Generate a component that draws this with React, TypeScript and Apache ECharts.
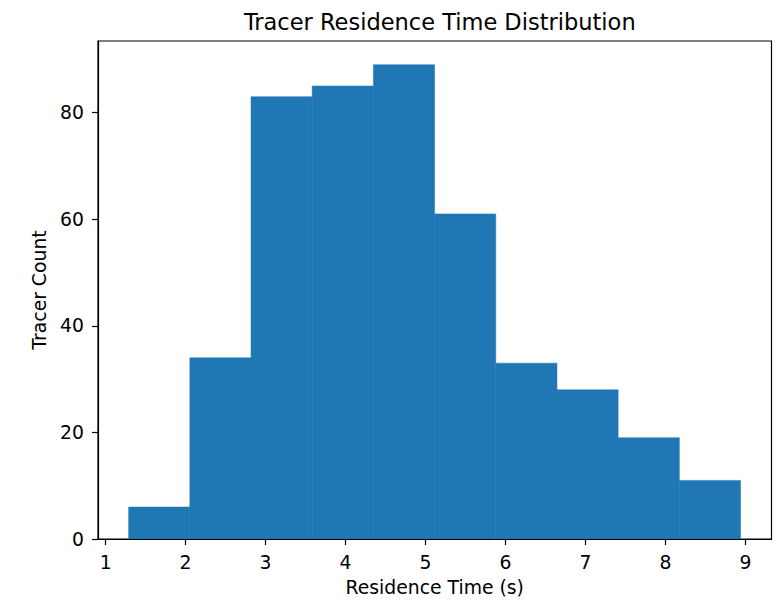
import React, { useEffect, useRef } from "react";
import * as echarts from "echarts";

const binEdges = [1.288, 2.053, 2.818, 3.583, 4.348, 5.113, 5.878, 6.643, 7.408, 8.173, 8.938];
const counts = [6, 34, 83, 85, 89, 61, 33, 28, 19, 11];
const xTicks = [1, 2, 3, 4, 5, 6, 7, 8, 9];
const yTicks = [0, 20, 40, 60, 80];
const titleText = "Tracer Residence Time Distribution";
const xName = "Residence Time (s)";
const yName = "Tracer Count";

export default function App() {
  const ref = useRef<HTMLDivElement>(null);
  useEffect(() => {
    if (!ref.current) return;
    const chart = echarts.init(ref.current, null, { renderer: "svg" });
    const data = counts.map((c, i) => [binEdges[i], binEdges[i + 1], c]);
    const font = "DejaVu Sans";
    const lbl = 18.8;
    chart.setOption({
      animation: false,
      backgroundColor: "#fff",
      title: {
        text: titleText,
        left: 434.75,
        textAlign: "center",
        top: 5,
        textStyle: { fontFamily: font, fontSize: 22.5, fontWeight: "normal", color: "#000" },
      },
      grid: {
        left: 98,
        right: 5.5,
        top: 41,
        bottom: 59,
        show: true,
        borderColor: "#000",
        borderWidth: 1.2,
        backgroundColor: "transparent",
      },
      xAxis: {
        type: "value",
        min: 0.905,
        max: 9.325,
        name: xName,
        nameLocation: "middle",
        nameGap: 39,
        nameTextStyle: { fontFamily: font, fontSize: lbl, color: "#000" },
        axisLine: { show: true, onZero: false, lineStyle: { color: "#000", width: 1.2 } },
        axisTick: { show: true, length: 6, lineStyle: { color: "#000", width: 1.2 }, customValues: xTicks },
        axisLabel: { fontFamily: font, fontSize: lbl, color: "#000", margin: 14, customValues: xTicks },
        splitLine: { show: false },
      },
      yAxis: {
        type: "value",
        min: 0,
        max: 93.45,
        name: yName,
        nameLocation: "middle",
        nameGap: 49,
        nameTextStyle: { fontFamily: font, fontSize: lbl, color: "#000" },
        axisLine: { show: true, onZero: false, lineStyle: { color: "#000", width: 1.2 } },
        axisTick: { show: true, length: 6, lineStyle: { color: "#000", width: 1.2 }, customValues: yTicks },
        axisLabel: { fontFamily: font, fontSize: lbl, color: "#000", margin: 14, customValues: yTicks },
        splitLine: { show: false },
      },
      series: [
        {
          type: "custom",
          data,
          clip: true,
          renderItem: (params: any, api: any) => {
            const x0 = api.value(0);
            const x1 = api.value(1);
            const h = api.value(2);
            const p0 = api.coord([x0, h]);
            const p1 = api.coord([x1, 0]);
            return {
              type: "rect",
              shape: { x: p0[0], y: p0[1], width: p1[0] - p0[0], height: p1[1] - p0[1] },
              style: { fill: "#1f77b4", stroke: "#1f77b4", lineWidth: 0.5 },
            };
          },
          encode: { x: [0, 1], y: 2 },
        },
      ],
    });
    return () => chart.dispose();
  }, []);
  return (
    <div
      ref={ref}
      style={{ position: "fixed", left: 0, top: 0, width: 777, height: 602, background: "#fff" }}
    />
  );
}
